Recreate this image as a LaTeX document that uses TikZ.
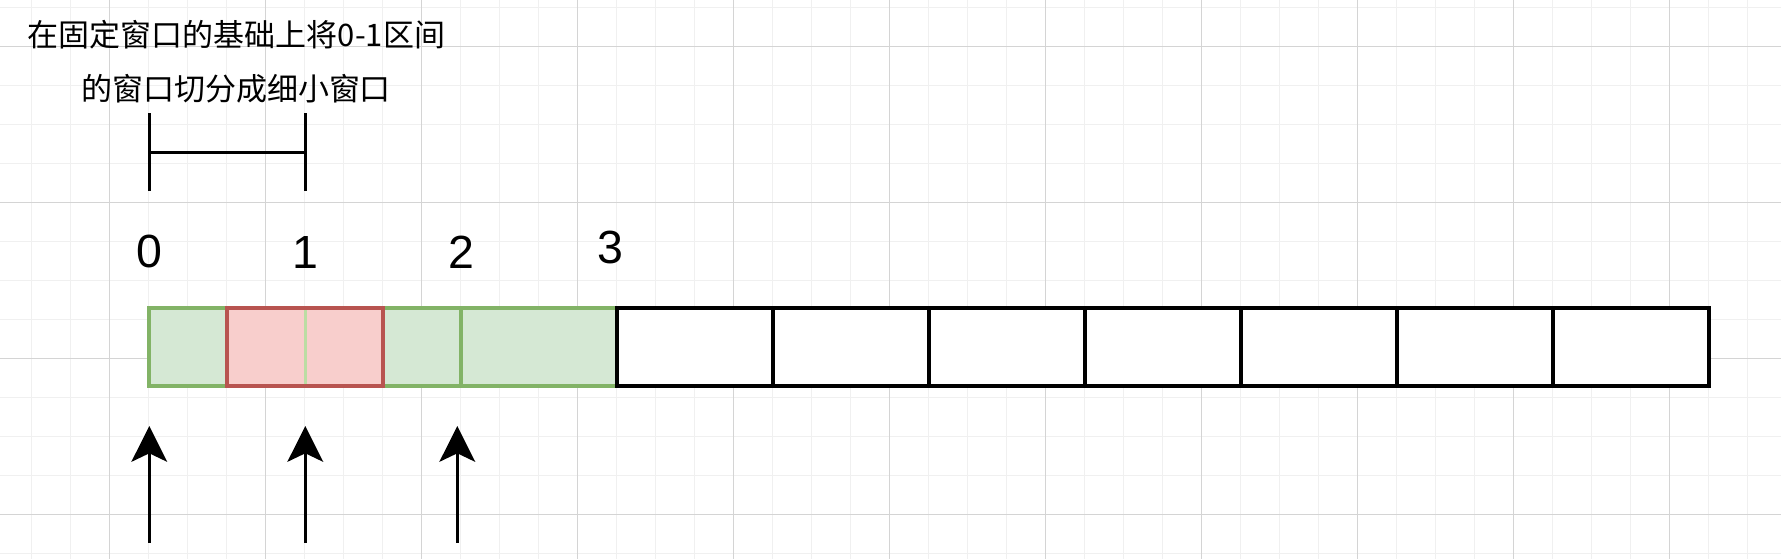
\documentclass[tikz,border=0pt]{standalone}
\usepackage{fontspec}
\setmainfont{Liberation Sans}
\newfontfamily\cjk{Noto Sans CJK SC}
\usetikzlibrary{arrows.meta}
\definecolor{gminor}{HTML}{F0F0F0}
\definecolor{gmajor}{HTML}{D4D4D4}
\definecolor{gfill}{HTML}{D5E8D4}
\definecolor{gline}{HTML}{82B366}
\definecolor{rfill}{HTML}{F8CECC}
\definecolor{rline}{HTML}{B85450}
\definecolor{lgline}{HTML}{BBDDA3}
\tikzset{
  gridminor/.style={draw=gminor, line width=1pt},
  gridmajor/.style={draw=gmajor, line width=1pt},
  cellbox/.style={rectangle, inner sep=0pt, outer sep=0pt, minimum width=156pt, minimum height=78pt, line width=4pt},
  greencell/.style={cellbox, fill=gfill, draw=gline},
  redcell/.style={cellbox, fill=rfill, draw=rline},
  blackcell/.style={cellbox, fill=white, draw=black, line width=4pt},
  numlabel/.style={inner sep=0pt, anchor=base, font=\fontsize{46.5}{50}\selectfont},
  cjktext/.style={inner sep=0pt, font=\cjk\fontsize{31}{34}\selectfont},
  bracketline/.style={draw=black, line width=3.5pt},
  uparrow/.style={draw=black, line width=3.5pt, -{Stealth[length=35.7pt, width=35.6pt, inset=8.4pt]}}
}
\begin{document}
\begin{tikzpicture}[x=1pt, y=-1pt]
\useasboundingbox (0,0) rectangle (1781,559);
\fill[white] (0,0) rectangle (1781,559);
% grid
\foreach \i in {0,...,44} \draw[gridminor] ({31.3+39*\i},0) -- ({31.3+39*\i},559);
\foreach \i in {0,...,14} \draw[gridminor] (0,{7.3+39*\i}) -- (1781,{7.3+39*\i});
\foreach \i in {0,...,10} \draw[gridmajor] ({109.3+156*\i},0) -- ({109.3+156*\i},559);
\foreach \i in {0,...,3} \draw[gridmajor] (0,{46.3+156*\i}) -- (1781,{46.3+156*\i});
% title text
\node[cjktext] (t1) at (236.5,34.5) {在固定窗口的基础上将0-1区间};
\node[cjktext] (t2) at (236,88.3) {的窗口切分成细小窗口};
% bracket
\coordinate (ba) at (149.3,113.3);
\coordinate (bb) at (149.3,190.7);
\coordinate (bc) at (305.3,113.3);
\coordinate (bd) at (305.3,190.7);
\coordinate (be) at (149.3,152.3);
\coordinate (bf) at (305.3,152.3);
\draw[bracketline] (ba) -- (bb);
\draw[bracketline] (bc) -- (bd);
\draw[bracketline] (be) -- (bf);
% number labels
\node[numlabel] (n0) at (149.5,267.3) {0};
\node[numlabel] (n1) at (305.8,268.3) {1};
\node[numlabel] (n2) at (461,268.3) {2};
\node[numlabel] (n3) at (610.3,263.6) {3};
% cells
\node[greencell] (g1) at (227,347.3) {};
\node[greencell] (g2) at (383,347.3) {};
\node[greencell] (g3) at (539,347.3) {};
\node[redcell] (r) at (305.3,347.3) {};
\draw[draw=lgline, line width=3pt, shorten <=2pt, shorten >=2pt] (g1.north east) -- (g1.south east);
\foreach \k in {1,...,7} \node[blackcell] (c\k) at ({695+156*(\k-1)},347.3) {};
% arrows
\coordinate (a0s) at (149.3,542.7);
\coordinate (a0e) at (149.3,426);
\coordinate (a1s) at (305.3,542.7);
\coordinate (a1e) at (305.3,426);
\coordinate (a2s) at (457.3,542.7);
\coordinate (a2e) at (457.3,426);
\draw[uparrow] (a0s) -- (a0e);
\draw[uparrow] (a1s) -- (a1e);
\draw[uparrow] (a2s) -- (a2e);
\end{tikzpicture}
\end{document}
